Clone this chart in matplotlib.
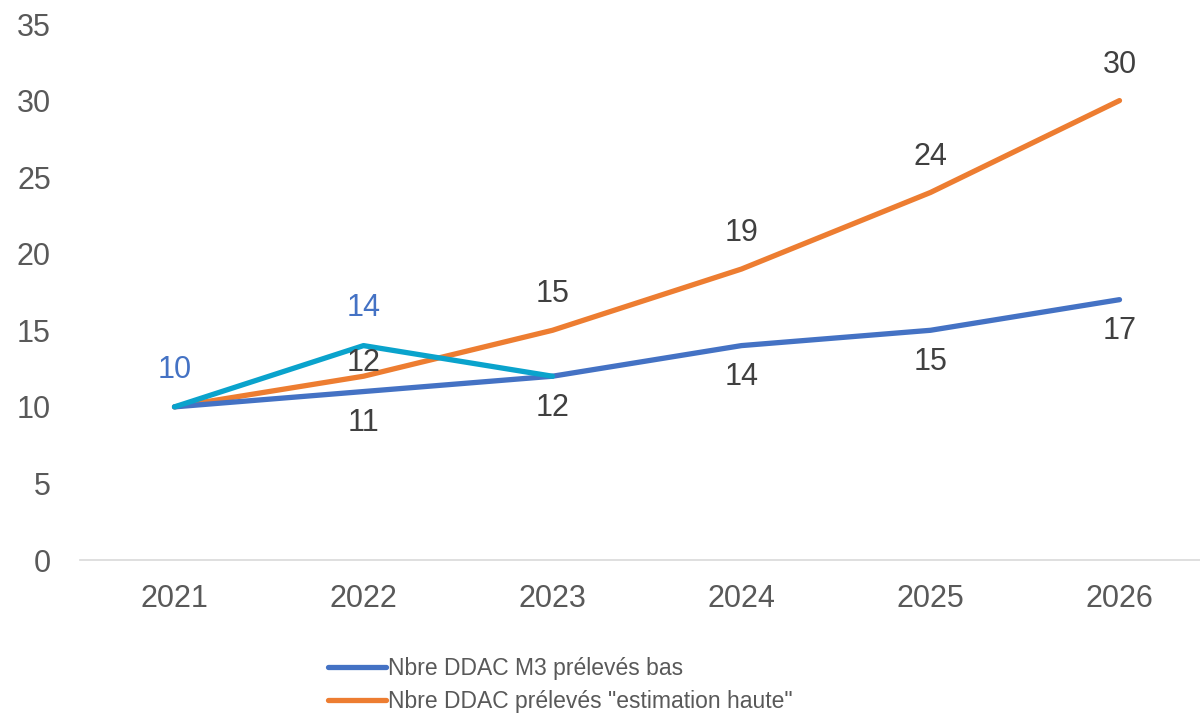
import matplotlib.pyplot as plt

plt.rcParams['font.family'] = ['Liberation Sans', 'DejaVu Sans']

years = ['2021', '2022', '2023', '2024', '2025', '2026']
bas = [10, 11, 12, 14, 15, 17]
haute = [10, 12, 15, 19, 24, 30]
reel = [10, 14, 12]

c_bas = '#4472C4'
c_haute = '#ED7D31'
c_reel = '#0AA3CC'
grey = '#595959'
lab = '#404040'

fig = plt.figure(figsize=(12, 7.2), dpi=100)
ax = fig.add_axes([80 / 1200, 1 - 560 / 720, 1134 / 1200, 536 / 720])

x = list(range(len(years)))
ax.plot(x, haute, color=c_haute, lw=3.8, solid_capstyle='round', label='Nbre DDAC prélevés "estimation haute"')
ax.plot(x, bas, color=c_bas, lw=3.8, solid_capstyle='round', label='Nbre DDAC M3 prélevés bas')
ax.plot(x[:len(reel)], reel, color=c_reel, lw=3.8, solid_capstyle='round')

# labels: blue below, orange above, cyan above
for i, v in enumerate(bas):
    if i == 0:
        continue
    ax.annotate(str(v), (i, v), xytext=(0, -12), textcoords='offset points',
                ha='center', va='top', fontsize=22, color=lab)
for i, v in enumerate(haute):
    if i == 0:
        continue
    dy = -1 if i == 1 else 15
    ax.annotate(str(v), (i, v), xytext=(0, dy), textcoords='offset points',
                ha='center', va='bottom', fontsize=22, color=lab)
for i, v in enumerate(reel):
    if i == 2:
        continue
    ax.annotate(str(v), (i, v), xytext=(0, 16), textcoords='offset points',
                ha='center', va='bottom', fontsize=22, color=c_bas)

ax.set_xlim(-0.5, len(years) - 0.5)
ax.set_ylim(0, 35)
ax.set_yticks(range(0, 36, 5))
ax.set_xticks(x)
ax.set_xticklabels(years)
ax.tick_params(axis='both', length=0, labelsize=22, labelcolor=grey)
ax.tick_params(axis='x', pad=17)
ax.tick_params(axis='y', pad=21)
for s in ['top', 'right', 'left']:
    ax.spines[s].set_visible(False)
ax.spines['bottom'].set_color('#D9D9D9')
ax.spines['bottom'].set_linewidth(1.2)

h, l = ax.get_legend_handles_labels()
leg = fig.legend([h[1], h[0]], [l[1], l[0]], loc='upper left', bbox_to_anchor=(317 / 1200, 1 - 646 / 720),
                 frameon=False, fontsize=16.5, handlelength=2.5,
                 handletextpad=0.1, labelspacing=0.42, borderpad=0)
for t in leg.get_texts():
    t.set_color(grey)

fig.savefig('out.png', dpi=100)
